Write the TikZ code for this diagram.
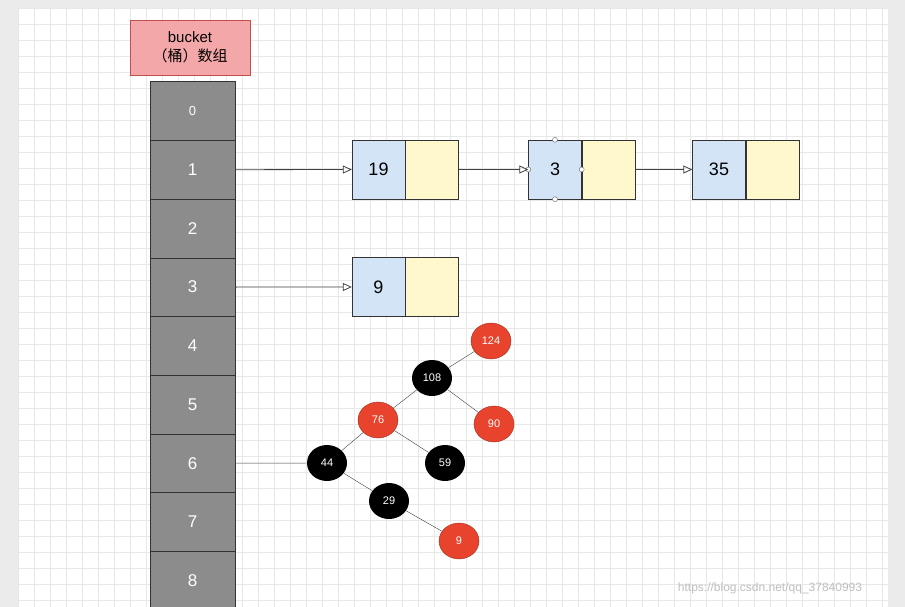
\documentclass[tikz,border=0pt]{standalone}
\usepackage{fontspec}
\setmainfont{Liberation Sans}
\newfontfamily\cjk{Noto Sans CJK SC}
\usetikzlibrary{arrows.meta,shapes.geometric}
\definecolor{cellg}{HTML}{8C8C8C}
\definecolor{pinkf}{HTML}{F4A7A9}
\definecolor{pinkd}{HTML}{C0504D}
\definecolor{bluef}{HTML}{D4E4F7}
\definecolor{yelf}{HTML}{FFF8CC}
\definecolor{rbred}{HTML}{E8432C}
\begin{document}
\begin{tikzpicture}[x=1pt,y=-1pt,
  cell/.style={draw=black!80,fill=cellg,minimum width=85pt,minimum height=58.7pt,inner sep=0,text=white,font=\fontsize{17}{17}\selectfont},
  key/.style={draw=black!80,fill=bluef,minimum width=53pt,minimum height=59pt,inner sep=0,font=\fontsize{18}{18}\selectfont},
  nxt/.style={draw=black!80,fill=yelf,minimum width=53pt,minimum height=59pt,inner sep=0},
  rb/.style={ellipse,minimum width=40pt,minimum height=36pt,inner sep=0,text=white,font=\fontsize{11}{11}\selectfont},
  red/.style={rb,fill=rbred,draw=rbred!70!black},
  blk/.style={rb,fill=black},
  arr/.style={draw=black!75,line width=0.8pt,-{Triangle[open,length=9pt,width=8pt]}},
  hd/.style={circle,draw=black!60,fill=white,inner sep=0,minimum size=5pt}]
\useasboundingbox (0,0) rectangle (905,607);
\fill[black!8] (0,0) rectangle (905,607);
\fill[white] (18,8) rectangle (888,607);
\foreach \x in {18,34,...,888} \draw[black!9,line width=0.5pt] (\x,8)--(\x,607);
\foreach \y in {8,24,...,607} \draw[black!9,line width=0.5pt] (18,\y)--(888,\y);
\node[draw=pinkd,fill=pinkf,minimum width=120pt,minimum height=55pt,align=center,inner sep=0,font=\fontsize{15}{19}\selectfont] (hdr) at (190,47.5) {bucket\\{\cjk （桶）数组}};
\foreach \i in {0,...,8}{
  \node[cell] (c\i) at (192.5,{111+58.7*\i}) {\ifnum\i=0 \fontsize{13}{13}\selectfont\fi\i};
}
\node[key] (k19) at (378.5,169.5) {19};
\node[nxt,anchor=west] (n19) at (k19.east) {};
\node[key] (k3) at (555,169.5) {3};
\node[nxt,anchor=west] (n3) at (k3.east) {};
\node[key] (k35) at (719,169.5) {35};
\node[nxt,anchor=west] (n35) at (k35.east) {};
\node[key] (k9) at (378.5,287) {9};
\node[nxt,anchor=west] (n9) at (k9.east) {};
\node[hd] at (k3.north) {};
\node[hd] at (k3.south) {};
\node[hd] at (k3.west) {};
\node[hd] at (k3.east) {};
\draw[arr] (c1.east) -- (k19.west);
\draw[arr] (n19.east) -- (k3.west);
\draw[arr] (n3.east) -- (k35.west);
\draw[arr] (c3.east) -- (k9.west);
\node[red] (t124) at (491,341) {124};
\node[blk] (t108) at (432,378) {108};
\node[red] (t76) at (378,420) {76};
\node[red] (t90) at (494,424) {90};
\node[blk] (t44) at (327,463) {44};
\node[blk] (t59) at (445,463) {59};
\node[blk] (t29) at (389,501) {29};
\node[red] (t9) at (459,541) {9};
\draw[black!75] (c6.east) -- (t44);
\draw[black!75] (t44)--(t76) (t76)--(t108) (t108)--(t124) (t108)--(t90) (t76)--(t59) (t44)--(t29) (t29)--(t9);
\node[text=black!25,font=\fontsize{12}{12}\selectfont] (wm) at (770,588) {https://blog.csdn.net/qq\_37840993};
\end{tikzpicture}
\end{document}
